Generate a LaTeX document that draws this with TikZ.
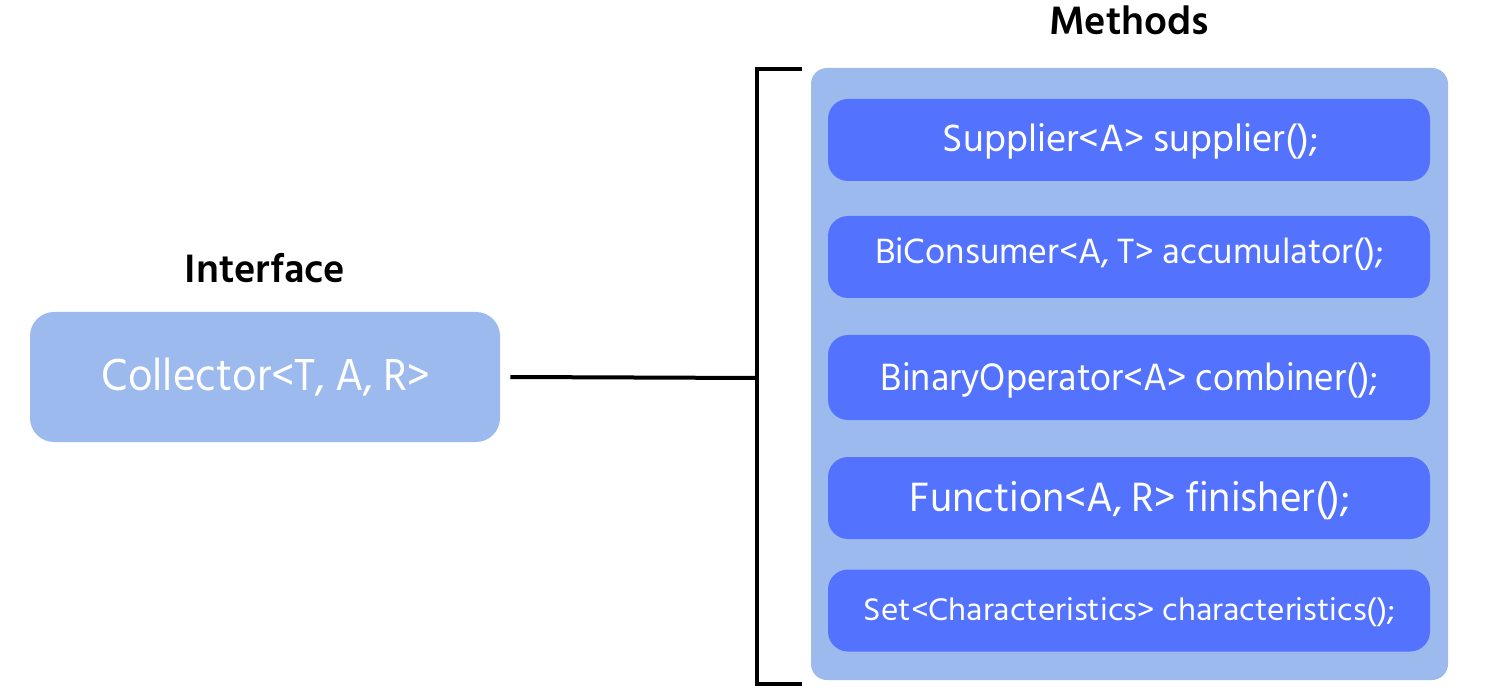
\documentclass[tikz,border=0pt]{standalone}
\usepackage{fontspec}
\usepackage{graphicx}
\setmainfont{Hind Siliguri}
\definecolor{panel}{HTML}{9CBAEE}
\definecolor{method}{HTML}{5373FF}
\newcommand{\fitw}[2]{\resizebox{#1}{\height}{#2}}
\begin{document}
\begin{tikzpicture}[x=0.5pt,y=-0.5pt,
  panelbox/.style={fill=panel,draw=none,rounded corners=12pt},
  methodbox/.style={fill=method,draw=none,rounded corners=10pt,minimum width=301pt,minimum height=41pt,inner sep=0pt},
  mtext/.style={text=white,inner sep=0pt,anchor=base},
  title/.style={font=\fontsize{20.3}{24}\selectfont\bfseries,text=black},
  wire/.style={line width=2pt,black}]
\useasboundingbox (0,0) rectangle (1500,700);
% titles
\node[title] (tint) at (265,268) {Interface};
\node[title] (tmeth) at (1129,20) {Methods};
% interface box
\node[panelbox,minimum width=235pt,minimum height=65pt,rounded corners=12pt] (coll) at (265,377) {};
\node[mtext,font=\fontsize{23}{26}\selectfont] (tcoll) at (266,391) {\fitw{164pt}{Collector<T, A, R>}};
% methods panel
\node[panelbox,minimum width=318.5pt,minimum height=306pt,rounded corners=8pt] (panel) at (1129.5,374) {};
% method boxes
\node[methodbox] (m1) at (1129,140) {};
\node[methodbox] (m2) at (1129,257) {};
\node[methodbox,minimum height=42.5pt] (m3) at (1129,377.5) {};
\node[methodbox] (m4) at (1129,498) {};
\node[methodbox] (m5) at (1129,610.5) {};
\node[mtext,font=\fontsize{19.5}{22}\selectfont] (t1) at (1130.5,151.5) {\fitw{187.5pt}{Supplier<A> supplier();}};
\node[mtext,font=\fontsize{18}{22}\selectfont] (t2) at (1129.5,263.5) {\fitw{254.5pt}{BiConsumer<A, T> accumulator();}};
\node[mtext,font=\fontsize{19.5}{22}\selectfont] (t3) at (1129.5,390.5) {\fitw{248.5pt}{BinaryOperator<A> combiner();}};
\node[mtext,font=\fontsize{21}{24}\selectfont] (t4) at (1130,511.5) {\fitw{220pt}{Function<A, R> finisher();}};
\node[mtext,font=\fontsize{16}{20}\selectfont] (t5) at (1129.5,620) {\fitw{265.5pt}{Set<Characteristics> characteristics();}};
% bracket
\coordinate (btop) at (802,69);
\coordinate (bbot) at (802,684);
\coordinate (bmid) at (757,378);
\draw[wire] (btop) -- (757,69) -- (757,684) -- (bbot);
\draw[wire] (coll.east) ++(10,0) coordinate (cstart);
\draw[wire] (cstart) -- (bmid);
\end{tikzpicture}
\end{document}
